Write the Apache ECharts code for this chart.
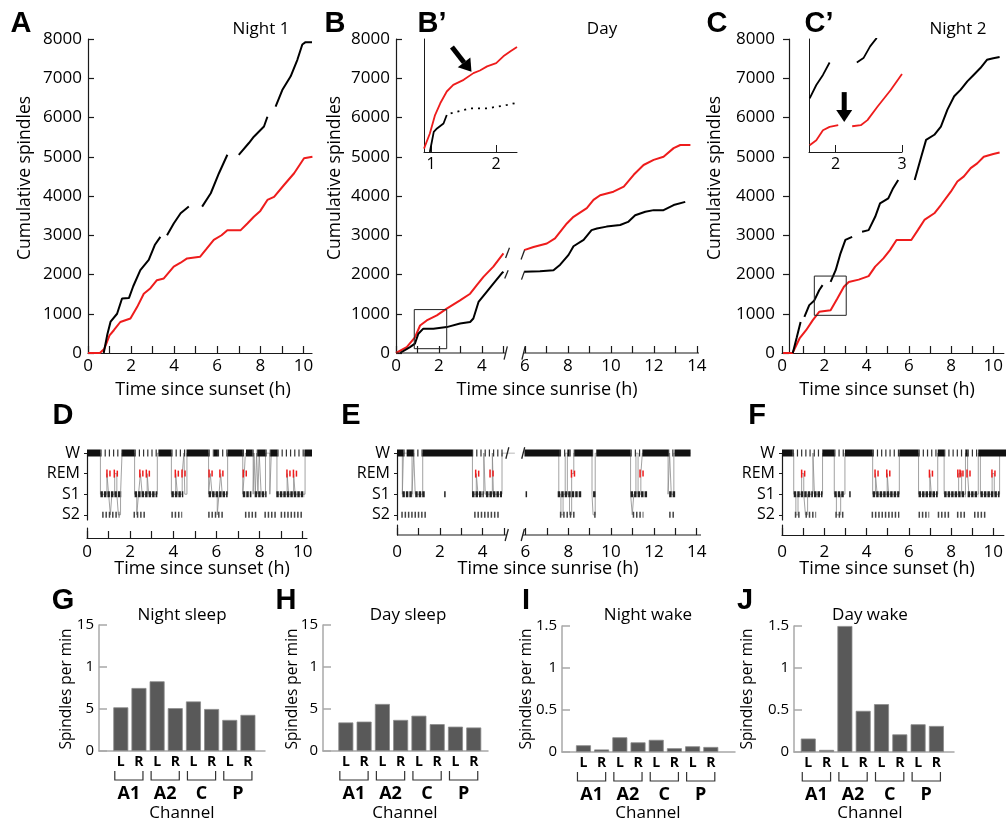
<!DOCTYPE html>
<html><head><meta charset="utf-8">
<script src="https://cdn.jsdelivr.net/npm/echarts@6/dist/echarts.min.js"></script>
<style>html,body{margin:0;padding:0;background:#fff}#c{width:1006px;height:823px}</style>
</head><body><div id="c"></div>
<script>
// ---------------- DATA ----------------
// Panel A (Night 1) cumulative spindles, [hour, count]; '-' = gap
const aBlack = [[0.73,0],[0.9,480],[1.05,800],[1.35,1000],[1.58,1390],[1.9,1400],[2.1,1700],[2.43,2110],[2.82,2370],[3.1,2750],[3.36,2960],[3.45,'-'],[3.67,3000],[3.98,3300],[4.3,3560],[4.68,3730],[4.8,'-'],[5.3,3730],[5.7,4070],[6.08,4580],[6.47,5050],[6.6,'-'],[7.0,5050],[7.47,5350],[7.7,5510],[8.17,5770],[8.33,6020],[8.45,'-'],[8.71,6280],[9.02,6700],[9.41,7050],[9.72,7470],[9.95,7860],[10.1,7920],[10.4,7920]];
const aRed = [[0,0],[0.55,0],[0.75,100],[1.0,450],[1.2,580],[1.5,790],[1.97,880],[2.28,1170],[2.59,1510],[2.9,1650],[3.2,1855],[3.52,1900],[3.98,2200],[4.3,2300],[4.6,2410],[5.2,2450],[5.5,2650],[5.84,2880],[6.2,3000],[6.47,3130],[7.09,3130],[7.4,3300],[7.7,3470],[8.0,3620],[8.33,3900],[8.64,3980],[9.1,4280],[9.57,4580],[10.03,4960],[10.42,5000]];
// Panel B (Day)
const bRed = [[0,0],[0.5,150],[0.88,400],[1.12,700],[1.43,830],[1.9,960],[2.36,1130],[2.98,1340],[3.45,1510],[3.76,1730],[4.07,1940],[4.53,2200],[5.0,2540],[5.5,'-'],[5.96,2620],[6.4,2700],[7.02,2790],[7.4,2920],[7.95,3300],[8.26,3470],[8.88,3690],[9.19,3900],[9.5,4020],[10.12,4110],[10.6,4240],[11.06,4540],[11.52,4790],[11.99,4920],[12.45,5000],[12.92,5220],[13.23,5300],[13.7,5300]];
const bBlack = [[0.19,0],[0.65,150],[0.88,240],[1.04,490],[1.27,620],[1.74,620],[2.36,660],[2.98,750],[3.45,790],[3.6,880],[3.84,1300],[4.22,1560],[4.53,1770],[4.92,2030],[5.0,2070],[5.5,'-'],[5.96,2070],[6.7,2080],[7.33,2110],[7.64,2250],[8.03,2500],[8.26,2720],[8.73,2880],[9.1,3130],[9.35,3170],[9.8,3220],[10.43,3260],[10.8,3340],[11.13,3510],[11.6,3600],[11.99,3640],[12.45,3640],[12.92,3770],[13.46,3850]];
// Inset B'
const bInRed = [[0.89,139],[0.98,272],[1.06,434],[1.14,537],[1.24,640],[1.34,698],[1.5,742],[1.65,801],[1.75,824],[1.86,860],[2.0,889],[2.11,948],[2.22,992],[2.32,1030]];
const bInBlack = [[0.98,110],[1.04,286],[1.09,316],[1.19,360],[1.24,434]];
const bInBlackDotted = [[1.3,448],[1.6,492],[1.86,492],[2.01,507],[2.17,522],[2.32,542]];
// Panel C (Night 2)
const cBlack = [[0.51,0],[0.7,400],[0.88,790],[0.95,'-'],[1.06,920],[1.29,1220],[1.53,1340],[1.76,1600],[1.92,1730],[2.0,'-'],[2.3,1810],[2.54,2110],[2.77,2540],[3.0,2880],[3.32,2960],[3.45,'-'],[3.79,3090],[4.1,3130],[4.41,3470],[4.64,3810],[5.03,3940],[5.26,4200],[5.5,4410],[5.9,'-'],[6.28,4410],[6.59,5000],[6.82,5430],[7.21,5560],[7.52,5770],[7.83,6200],[8.15,6540],[8.46,6710],[8.77,6920],[9.08,7090],[9.39,7260],[9.7,7470],[10.0,7510],[10.3,7540]];
const cRed = [[0.05,0],[0.5,0],[0.83,370],[1.14,580],[1.45,830],[1.76,1050],[2.3,1090],[2.62,1390],[2.93,1690],[3.16,1810],[3.63,1870],[4.1,1960],[4.41,2200],[4.8,2410],[5.11,2620],[5.42,2880],[6.12,2880],[6.43,3130],[6.74,3390],[7.21,3560],[7.52,3770],[7.99,4110],[8.3,4370],[8.61,4500],[8.93,4710],[9.24,4830],[9.55,5000],[10.0,5070],[10.3,5110]];
// Inset C'
const cInBlack = [[1.61,1425],[1.71,1543],[1.81,1632],[1.91,1742],[1.95,'-'],[2.32,1742],[2.42,1781],[2.52,1885],[2.62,1960]];
const cInRed = [[1.61,1009],[1.71,1054],[1.81,1143],[1.91,1172],[2.04,1187],[2.1,'-'],[2.25,1178],[2.38,1187],[2.48,1232],[2.63,1350],[2.83,1499],[3.0,1641]];
// zoom boxes [x1,y1,x2,y2]
const bBox = [[0.85,110,2.36,1106]];
const cBox = [[1.53,960,3.04,1960]];
// arrows [x1,y1,x2,y2]
const bArrow = [[1.32,1030,1.62,812]];
const cArrow = [[2.13,1480,2.13,1215]];

// Hypnograms: stage levels S2=0, S1=1, REM=2, W=3
const stageLabels = ['S2','S1','REM','W'];
const dWakeDense = [[0,0.62],[1.62,2.2],[3.3,3.9],[4.6,5.62],[5.85,6.05],[6.5,7.2],[7.35,7.65],[7.9,8.25],[8.5,8.8],[10.05,10.4]];
const dWakeSparse = [[0.62,1.62],[2.2,3.3],[3.9,4.6],[5.62,5.85],[6.05,6.5],[7.2,7.35],[7.65,7.9],[8.25,8.5],[8.8,10.05]];
const dS1 = [[0.62,1.6],[2.2,3.25],[3.9,4.45],[5.62,6.5],[7.2,7.6],[7.75,8.3],[8.75,10.05]];
const dS2 = [[0.7,1.5],[2.15,2.7],[3.9,4.4],[5.6,6.3],[7.3,7.9],[8.2,8.8],[8.95,10.0]];
const dREM = [0.98,1.32,2.5,2.8,4.14,4.45,5.7,6.2,7.28,9.3,9.6];
const dSteps = [[0,3],[0.62,1],[0.92,2],[1.0,1],[1.08,0],[1.15,1],[1.28,2],[1.38,1],[1.45,0],[1.55,1],[1.62,3],[2.2,1],[2.3,0],[2.38,1],[2.47,2],[2.55,1],[2.78,2],[2.85,1],[3.25,3],[3.9,1],[4.1,2],[4.18,1],[4.4,2],[4.48,3],[4.52,1],[4.62,3],[5.62,1],[5.7,2],[5.78,1],[6.02,0],[6.1,1],[6.18,2],[6.25,1],[6.5,3],[7.2,1],[7.27,2],[7.32,3],[7.68,1],[7.72,3],[7.78,1],[7.84,3],[7.9,1],[7.96,3],[8.05,1],[8.25,3],[8.45,1],[8.52,3],[8.78,1],[9.25,2],[9.32,1],[9.55,2],[9.62,1],[10.08,3],[10.4,3]];
const eWakeDense = [[0,0.3],[0.45,0.75],[1.2,3.5],[5.95,7.6],[7.95,8.05],[8.3,9.1],[9.3,10.9],[11.45,12.65],[12.95,13.7]];
const eWakeSparse = [[0.3,0.45],[0.75,1.2],[3.5,5.0],[7.6,7.95],[8.05,8.3],[9.1,9.3],[10.9,11.45],[12.65,12.95]];
const eS1 = [[0.25,0.75],[0.85,1.3],[2.2,2.25],[3.5,4.05],[4.15,4.9],[6.0,6.05],[7.5,8.6],[9.15,9.3],[10.9,11.7],[12.7,13.0]];
const eS2 = [[0.2,1.4],[3.6,4.8],[7.6,8.3],[9.2,9.3],[11.0,11.5],[12.7,13.0]];
const eREM = [3.73,4.4,8.2,11.4];
const eSteps = [[0,3],[0.25,1],[0.3,3],[0.7,1],[0.78,3],[0.85,1],[1.2,3],[3.52,1],[3.7,2],[3.78,1],[4.05,3],[4.12,1],[4.45,3],[4.5,1],[4.9,3],[5.0,3],[5.5,'-'],[5.95,3],[7.55,1],[7.65,0],[7.75,1],[7.85,3],[7.95,1],[8.05,0],[8.15,2],[8.25,3],[9.1,1],[9.15,0],[9.25,3],[10.9,1],[10.98,0],[11.05,1],[11.15,3],[11.25,1],[11.38,2],[11.45,3],[12.65,1],[12.72,3],[12.8,1],[12.92,3],[13.7,3]];
const fWakeDense = [[0,0.5],[1.9,2.45],[2.95,4.25],[5.5,6.4],[7.3,7.6],[8.6,8.7],[9.2,10.5]];
const fWakeSparse = [[0.5,1.9],[2.45,2.95],[4.25,5.5],[6.4,7.3],[7.6,8.6],[8.7,9.2]];
const fS1 = [[0.55,1.45],[1.5,1.9],[2.45,2.9],[3.15,3.2],[4.25,5.5],[6.4,7.3],[7.6,8.6],[8.7,9.2],[9.3,10.2]];
const fS2 = [[0.6,0.9],[1.1,1.6],[2.5,2.95],[4.2,5.5],[6.4,6.9],[7.3,7.9],[8.2,8.6],[9.0,9.6]];
const fREM = [0.98,4.42,4.97,6.97,8.3,8.4,8.73,9.9];
const fSteps = [[0,3],[0.55,1],[0.65,0],[0.75,1],[0.92,2],[1.02,1],[1.1,0],[1.2,1],[1.45,3],[1.52,1],[1.9,3],[2.45,1],[2.55,0],[2.75,1],[2.95,3],[4.25,1],[4.38,2],[4.46,1],[4.93,2],[5.0,1],[5.5,3],[6.4,1],[6.93,2],[7.0,1],[7.3,3],[7.6,1],[8.28,2],[8.42,1],[8.6,3],[8.7,2],[8.76,1],[9.2,3],[9.3,1],[9.85,2],[9.95,1],[10.2,3],[10.5,3]];

// Bar panels: channels L/R for A1, A2, C, P
const sideLabels = ['L','R','L','R','L','R','L','R'];
const groupLabels = ['A1','A2','C','P'];
const nightSleep = [0.52,0.75,0.83,0.51,0.59,0.50,0.37,0.43];
const daySleep   = [0.34,0.35,0.56,0.37,0.42,0.32,0.29,0.28];
const nightWake  = [0.08,0.03,0.175,0.115,0.145,0.045,0.068,0.06];
const dayWake    = [0.16,0.025,1.5,0.49,0.57,0.21,0.33,0.31];
const barTickValues = [0,0.5,1,1.5];
const sleepTickLabels = ['0','5','1','15'];
const wakeTickLabels = ['0','0.5','1','1.5'];

// tick values
const hours = n => Array.from({length:n+1},(_,i)=>i);
const evenHours = n => hours(n).filter(h=>h%2===0);

// ---------------- BUILD ----------------
const FONT = '"Open Sans", sans-serif';
const AX = '#1a1a1a';
const RED = '#ee1c1c';
const chart = echarts.init(document.getElementById('c'), null, {renderer:'canvas'});

const grids = [
  {left:88, top:39, width:224, height:314},   //0 A
  {left:396, top:39, width:303, height:314},  //1 B
  {left:424, top:39, width:93, height:113},   //2 B'
  {left:782, top:39, width:226, height:314},  //3 C
  {left:809, top:39, width:93, height:113},   //4 C'
  {left:87, top:453, width:225, height:67},   //5 D
  {left:87, top:528, width:220, height:10},   //6 D axis
  {left:397, top:453, width:300, height:67},  //7 E
  {left:397, top:525, width:304, height:10},  //8 E axis
  {left:782, top:453, width:226, height:67},  //9 F
  {left:782, top:525, width:226, height:10},  //10 F axis
  {left:99, top:625, width:166, height:126},  //11 G
  {left:323, top:625, width:165, height:126}, //12 H
  {left:562, top:626, width:173, height:126}, //13 I
  {left:794, top:626, width:160, height:126}  //14 J
];

const lbl = (size, extra) => Object.assign({color:'#000', fontFamily:FONT, fontSize:size}, extra||{});

function timeX(gi, max, ticks, labels, showLine, margin) {
  return {gridIndex:gi, type:'value', min:0, max:max,
    axisLine:{show:showLine, onZero:false, lineStyle:{color:AX, width:1.2}},
    axisTick:{show:true, inside:true, length:7, customValues:ticks, lineStyle:{color:AX, width:1.2}},
    axisLabel:lbl(17,{customValues:labels, margin:margin}),
    splitLine:{show:false}};
}
function cumY(gi, inside, margin, offset) {
  return {gridIndex:gi, type:'value', min:0, max:8000, interval:1000, offset:offset||0,
    axisLine:{show:true, onZero:false, lineStyle:{color:AX, width:1.2}},
    axisTick:{show:true, inside:inside, length:6, lineStyle:{color:AX, width:1.2}},
    axisLabel:lbl(17,{margin:margin, formatter:v=>String(v)}), splitLine:{show:false}};
}
function hypY(gi) {
  return {gridIndex:gi, type:'value', min:-0.25, max:3,
    axisLine:{show:true, onZero:false, lineStyle:{color:AX, width:1.2}},
    axisTick:{show:true, inside:false, length:3, customValues:[0,1,2,3], lineStyle:{color:AX}},
    axisLabel:lbl(16,{customValues:[0,1,2,3], margin:7, formatter:v=>stageLabels[Math.round(v)]}),
    splitLine:{show:false}};
}
function hiddenX(gi, max){ return {gridIndex:gi, type:'value', min:0, max:max, show:false}; }
function stubY(gi){ return {gridIndex:gi, type:'value', min:0, max:1, axisLine:{show:true, onZero:false, lineStyle:{color:AX, width:1.2}}, axisTick:{show:false}, axisLabel:{show:false}, splitLine:{show:false}}; }
function barX(gi, min, max){ return {gridIndex:gi, type:'value', min:min, max:max,
    axisLine:{show:true, onZero:false, lineStyle:{color:'#a8a8a8', width:1.5}}, axisTick:{show:false}, axisLabel:{show:false}, splitLine:{show:false}}; }
function barY(gi, tickLabels){ return {gridIndex:gi, type:'value', min:0, max:1.5,
    axisLine:{show:true, onZero:false, lineStyle:{color:'#a8a8a8', width:1.5}},
    axisTick:{show:true, inside:true, length:8, customValues:barTickValues, lineStyle:{color:'#a8a8a8', width:1.5}},
    axisLabel:lbl(15,{customValues:barTickValues, margin:5, formatter:v=>tickLabels[barTickValues.indexOf(v)]}),
    splitLine:{show:false}}; }

const xAxis = [
  timeX(0, 10.4, hours(10), evenHours(10), true, 5),
  timeX(1, 14.1, hours(14), evenHours(14), false, 5),
  {gridIndex:2, type:'value', min:0.89, max:2.32, axisLine:{onZero:false, lineStyle:{color:AX, width:1}},
    axisTick:{inside:true, length:7, customValues:[1,2], lineStyle:{color:AX}}, axisLabel:lbl(16,{customValues:[1,2], margin:4}), splitLine:{show:false}},
  timeX(3, 10.5, hours(10), evenHours(10), true, 5),
  {gridIndex:4, type:'value', min:1.6, max:3.0, axisLine:{onZero:false, lineStyle:{color:AX, width:1}},
    axisTick:{inside:true, length:7, customValues:[2,3], lineStyle:{color:AX}}, axisLabel:lbl(16,{customValues:[2,3], margin:4}), splitLine:{show:false}},
  hiddenX(5, 10.4),
  timeX(6, 10.2, hours(10), evenHours(10), true, 6),
  hiddenX(7, 14),
  timeX(8, 14.2, hours(14), evenHours(14), false, 9),
  hiddenX(9, 10.5),
  timeX(10, 10.5, hours(10), evenHours(10), true, 9),
  barX(11, -1.2, 7.94), barX(12, -1.25, 7.78), barX(13, -1.18, 8.33), barX(14, -0.78, 7.96)
];
const yAxis = [
  cumY(0, true, 6),
  cumY(1, true, 6),
  {gridIndex:2, type:'value', min:110, max:1100, axisLine:{show:true, onZero:false, lineStyle:{color:AX, width:1}}, axisTick:{show:false}, axisLabel:{show:false}, splitLine:{show:false}},
  cumY(3, false, 14, -7),
  {gridIndex:4, type:'value', min:950, max:1950, axisLine:{show:true, onZero:false, lineStyle:{color:AX, width:1}}, axisTick:{show:false}, axisLabel:{show:false}, splitLine:{show:false}},
  hypY(5), stubY(6), hypY(7), stubY(8), hypY(9), stubY(10),
  barY(11, sleepTickLabels), barY(12, sleepTickLabels), barY(13, wakeTickLabels), barY(14, wakeTickLabels)
];

const series = [];
function line(i, data, color, width, dotted) {
  series.push({type:'line', xAxisIndex:i, yAxisIndex:i, data:data, symbol:'none', connectNulls:false,
    lineStyle:{color:color, width:width, type: dotted ? [2,5] : 'solid'}, silent:true, z:3});
}
function segs(i, data, color, width) {
  series.push({type:'custom', xAxisIndex:i, yAxisIndex:i, clip:false, silent:true, data:data, z:4,
    renderItem:(p, api)=>{const a=api.coord([api.value(0),api.value(1)]), b=api.coord([api.value(2),api.value(3)]);
      return {type:'line', shape:{x1:a[0],y1:a[1],x2:b[0],y2:b[1]}, style:{stroke:color, lineWidth:width}};}});
}
function boxes(i, data) {
  series.push({type:'custom', xAxisIndex:i, yAxisIndex:i, clip:false, silent:true, data:data, z:4,
    renderItem:(p, api)=>{const a=api.coord([api.value(0),api.value(1)]), b=api.coord([api.value(2),api.value(3)]);
      return {type:'rect', shape:{x:a[0], y:b[1], width:b[0]-a[0], height:a[1]-b[1]}, style:{fill:null, stroke:'#222', lineWidth:1}};}});
}
function arrows(i, data) {
  series.push({type:'custom', xAxisIndex:i, yAxisIndex:i, clip:false, silent:true, data:data, z:6,
    renderItem:(p, api)=>{const a=api.coord([api.value(0),api.value(1)]), b=api.coord([api.value(2),api.value(3)]);
      const dx=b[0]-a[0], dy=b[1]-a[1], L=Math.hypot(dx,dy), ux=dx/L, uy=dy/L, hl=12, hw=8;
      const bx=b[0]-ux*hl, by=b[1]-uy*hl;
      return {type:'group', children:[
        {type:'line', shape:{x1:a[0],y1:a[1],x2:bx,y2:by}, style:{stroke:'#000', lineWidth:5}},
        {type:'polygon', shape:{points:[[b[0],b[1]],[bx-uy*hw,by+ux*hw],[bx+uy*hw,by-ux*hw]]}, style:{fill:'#000'}}]};}});
}
// stage bouts drawn as thick tick-textured strokes
function band(i, intervals, level, color, h, dash) {
  series.push({type:'custom', xAxisIndex:i, yAxisIndex:i, clip:false, silent:true, z:3,
    data: intervals.map(iv=>[iv[0], level, iv[1]]),
    renderItem:(p, api)=>{const a=api.coord([api.value(0),api.value(1)]), b=api.coord([api.value(2),api.value(1)]);
      return {type:'line', shape:{x1:a[0], y1:a[1], x2:Math.max(a[0]+1.5,b[0]), y2:a[1]},
        style:{stroke:color, lineWidth:h, lineDash:dash||null}};}});
}
function rem(i, times) {
  series.push({type:'custom', xAxisIndex:i, yAxisIndex:i, clip:false, silent:true, z:5,
    data: times.map(t=>[t, 2]),
    renderItem:(p, api)=>{const a=api.coord([api.value(0),api.value(1)]);
      return {type:'group', children:[
        {type:'rect', shape:{x:a[0]-2, y:a[1]-4, width:1.5, height:8}, style:{fill:RED}},
        {type:'rect', shape:{x:a[0]+1, y:a[1]-3, width:1.5, height:6}, style:{fill:RED}}]};}});
}
function steps(i, data) {
  series.push({type:'line', xAxisIndex:i, yAxisIndex:i, data:data, step:'end', symbol:'none', connectNulls:false,
    lineStyle:{color:'#8a8a8a', width:0.8}, silent:true, z:2});
}
function hyp(i, wd, ws, s1, s2, r, st) {
  steps(i, st);
  band(i, ws, 3, '#333', 7, [1.2,3]);
  band(i, wd, 3, '#111', 7, null);
  band(i, s1, 1, '#222', 6, [2.5,1]);
  band(i, s2, 0, '#444', 6, [1.5,1.8]);
  rem(i, r);
}
function bars(i, vals) {
  series.push({type:'bar', xAxisIndex:i, yAxisIndex:i, data: vals.map((v,k)=>[k,v]), barWidth:15,
    itemStyle:{color:'#595959', borderColor:'#8c8c8c', borderWidth:0.8}, silent:true, z:3});
  series.push({type:'custom', xAxisIndex:i, yAxisIndex:i, clip:false, silent:true, z:4,
    data: sideLabels.map((s,k)=>[k,0]),
    renderItem:(p, api)=>{const c=api.coord([api.value(0),0]);
      return {type:'text', x:c[0], y:c[1]+11, style:{text:sideLabels[p.dataIndex], font:'bold 14px '+FONT, align:'center', verticalAlign:'middle', fill:'#000'}};}});
  series.push({type:'custom', xAxisIndex:i, yAxisIndex:i, clip:false, silent:true, z:4,
    data: groupLabels.map((g,k)=>[2*k, 2*k+1]),
    renderItem:(p, api)=>{const a=api.coord([api.value(0),0]), b=api.coord([api.value(1),0]);
      const x1=a[0]-6, x2=b[0]+4, y0=a[1];
      return {type:'group', children:[
        {type:'polyline', shape:{points:[[x1,y0+20],[x1,y0+29],[x2,y0+29],[x2,y0+20]]}, style:{stroke:'#333', lineWidth:1.2, fill:null}},
        {type:'text', x:(x1+x2)/2, y:y0+43, style:{text:groupLabels[p.dataIndex], font:'bold 18px '+FONT, align:'center', verticalAlign:'middle', fill:'#000'}}]};}});
}

// A
line(0, aRed, RED, 2); line(0, aBlack, '#000', 2);
// B
line(1, bRed, RED, 2); line(1, bBlack, '#000', 2);
segs(1, [[0,0,5.08,0],[5.95,0,14.1,0]], AX, 1.2);
segs(1, [[5.03,-170,5.18,170],[5.86,-170,6.01,170],[5.1,2420,5.28,2680],[5.82,2380,5.98,2620],[5.06,1900,5.22,2110],[5.84,1870,5.98,2080]], '#222', 1.3);
boxes(1, bBox);
// B'
line(2, bInRed, RED, 1.8); line(2, bInBlack, '#000', 1.8); line(2, bInBlackDotted, '#000', 1.8, true);
arrows(2, bArrow);
// C
line(3, cRed, RED, 2); line(3, cBlack, '#000', 2);
boxes(3, cBox);
// C'
line(4, cInRed, RED, 1.8); line(4, cInBlack, '#000', 1.8);
arrows(4, cArrow);
// D, E, F
hyp(5, dWakeDense, dWakeSparse, dS1, dS2, dREM, dSteps);
hyp(7, eWakeDense, eWakeSparse, eS1, eS2, eREM, eSteps);
segs(7, [[5.08,2.72,5.22,3.28],[5.82,2.72,5.96,3.28]], '#222', 1.3);
segs(8, [[0,0,5.13,0],[5.88,0,14.2,0]], AX, 1.2);
segs(8, [[5.05,-0.6,5.2,0.6],[5.8,-0.6,5.95,0.6]], '#222', 1.3);
hyp(9, fWakeDense, fWakeSparse, fS1, fS2, fREM, fSteps);
// G-J
bars(11, nightSleep); bars(12, daySleep); bars(13, nightWake); bars(14, dayWake);

// text labels
function txt(text, x, y, size, opts) {
  opts = opts || {};
  return {type:'text', x:x, y:y, rotation:opts.rot||0, z:10, silent:true,
    style:{text:text, font:(opts.bold?'bold ':'')+size+'px '+(opts.family||FONT), fill:'#000', align:opts.align||'center', verticalAlign:'middle'}};
}
const LET = {bold:true, family:'"Liberation Sans", Arial, sans-serif'};
const graphic = [
  txt('A', 21, 24, 29, LET), txt('B', 335, 24, 29, LET), txt('B\u2019', 432, 24, 29, LET),
  txt('C', 717, 24, 29, LET), txt('C\u2019', 819, 24, 29, LET),
  txt('D', 63, 416, 29, LET), txt('E', 351, 416, 29, LET), txt('F', 757, 416, 29, LET),
  txt('G', 63, 601, 29, LET), txt('H', 286, 601, 29, LET), txt('I', 526, 601, 29, LET), txt('J', 745, 601, 29, LET),
  txt('Night 1', 261, 29, 17), txt('Day', 602, 29, 17), txt('Night 2', 958, 29, 17),
  txt('Cumulative spindles', 25, 178, 17.5, {rot:Math.PI/2}),
  txt('Cumulative spindles', 335, 178, 17.5, {rot:Math.PI/2}),
  txt('Cumulative spindles', 715, 178, 17.5, {rot:Math.PI/2}),
  txt('Time since sunset (h)', 203, 390, 18), txt('Time since sunrise (h)', 547, 390, 18), txt('Time since sunset (h)', 887, 390, 18),
  txt('Time since sunset (h)', 202, 569, 18), txt('Time since sunrise (h)', 548, 569, 18), txt('Time since sunset (h)', 887, 569, 18),
  txt('Night sleep', 182, 615, 17), txt('Day sleep', 408, 615, 17), txt('Night wake', 648, 615, 17), txt('Day wake', 870, 615, 17),
  txt('Spindles per min', 67, 689, 15.5, {rot:Math.PI/2}), txt('Spindles per min', 293, 689, 15.5, {rot:Math.PI/2}),
  txt('Spindles per min', 527, 689, 15.5, {rot:Math.PI/2}), txt('Spindles per min', 748, 689, 15.5, {rot:Math.PI/2}),
  txt('Channel', 182, 813, 17), txt('Channel', 405, 813, 17), txt('Channel', 648, 813, 17), txt('Channel', 870, 813, 17)
];

chart.setOption({backgroundColor:'#fff', animation:false, grid:grids, xAxis:xAxis, yAxis:yAxis, series:series, graphic:graphic});
</script></body></html>
